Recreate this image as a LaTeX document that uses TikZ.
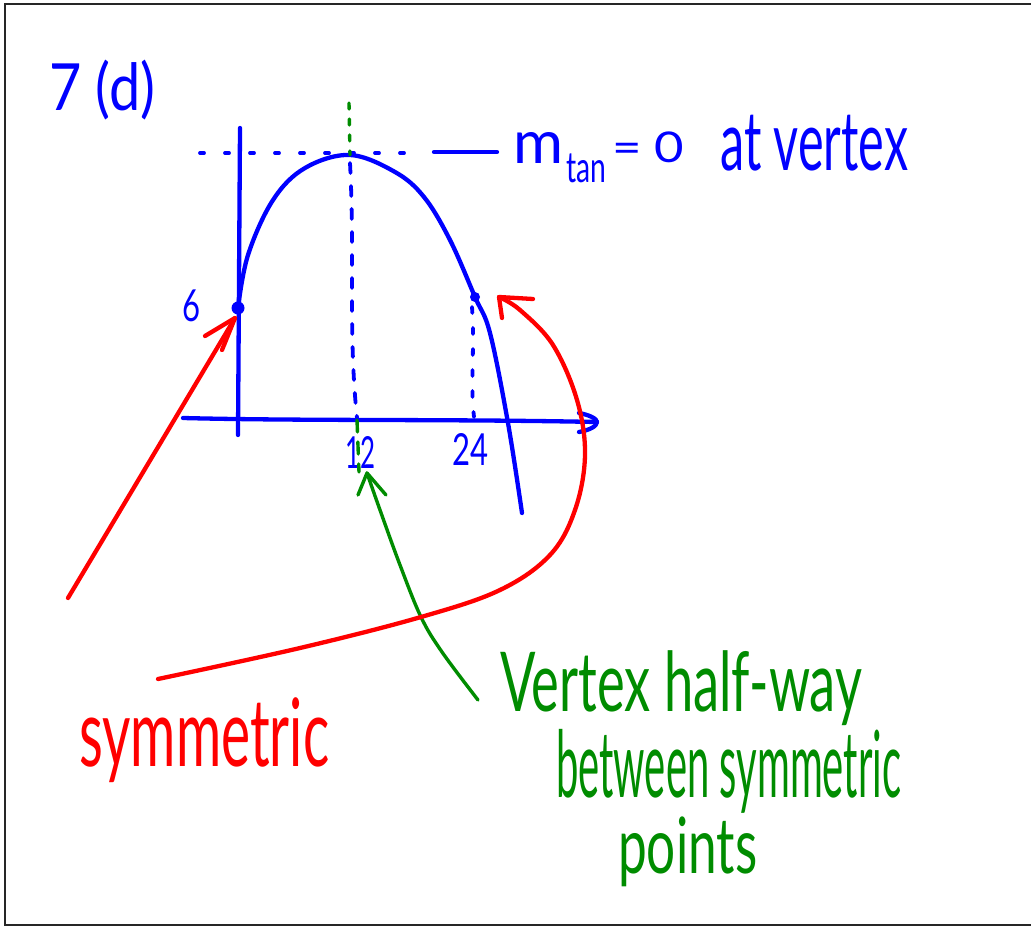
\documentclass[tikz,border=0pt]{standalone}
\usepackage{fontspec}
\setmainfont{Lato}
\usepackage{graphicx}
\definecolor{pblue}{RGB}{0,0,255}
\definecolor{pred}{RGB}{255,0,0}
\definecolor{pgreen}{RGB}{0,140,0}
\newcommand{\hw}[3]{\resizebox*{#1}{#2}{#3}}
\begin{document}
\begin{tikzpicture}[x=1pt,y=-1pt,
  ink/.style={line width=4.3pt,line cap=round,line join=round},
  bl/.style={ink,draw=pblue},
  rd/.style={ink,draw=pred},
  gr/.style={ink,line width=3.4pt,draw=pgreen},
  lbl/.style={inner sep=0pt,anchor=north west}]
\useasboundingbox (0,0) rectangle (1031,926);
\draw[line width=2.5pt,draw=black!85] (1031,4) -- (5,4) -- (5,925) -- (1031,925);

% labels
\node[lbl,text=pblue] (title) at (49,60) {\hw{106pt}{60pt}{7 (d)}};
\node[lbl,text=pblue] (six) at (182,290) {\hw{18pt}{32pt}{6}};
\node[lbl,text=pblue] (twelve) at (345,436) {\hw{30pt}{32pt}{12}};
\node[lbl,text=pblue] (tfour) at (452,433) {\hw{36pt}{32pt}{24}};
\node[lbl,text=pblue] (mm) at (513,132) {\hw{50pt}{31pt}{m}};
\node[lbl,text=pblue] (tan) at (566,154) {\hw{40pt}{29pt}{tan}};
\node[lbl,text=pblue] (eq) at (612,132) {\hw{72pt}{31pt}{= 0}};
\node[lbl,text=pblue] (atv) at (720,115) {\hw{188pt}{56pt}{at vertex}};
\node[lbl,text=pred] (sym) at (79,697) {\hw{250pt}{85pt}{symmetric}};
\node[lbl,text=pgreen] (g1) at (500,650) {\hw{362pt}{75pt}{Vertex half-way}};
\node[lbl,text=pgreen] (g2) at (556,729) {\hw{345pt}{84pt}{between symmetric}};
\node[lbl,text=pgreen] (g3) at (618,817) {\hw{139pt}{70pt}{points}};

% coordinates
\coordinate (vtx) at (350,155);
\coordinate (p6) at (238,308);
\coordinate (p24) at (475,297);
\coordinate (ytop) at (240,128);
\coordinate (ybot) at (238,435);
\coordinate (xl) at (183,418);
\coordinate (xr) at (597,422);

% axes
\draw[bl] (ytop) -- (ybot);
\draw[bl] (xl) .. controls (300,421) and (450,419) .. (xr);
\draw[bl] (579,413) .. controls (590,415) and (597,419) .. (xr) .. controls (597,426) and (590,430) .. (579,432);

% parabola
\draw[bl] plot[smooth,tension=0.6] coordinates {(p6) (248,255) (273,200) (305,168) (vtx) (395,172) (424,197) (450,240) (p24) (490,333) (508,423) (522,513)};
\fill[pblue] (p6) circle (6.5pt);
\fill[pblue] (p24) circle (5pt);

% dashed helpers
\draw[bl,line width=3.8pt,dash pattern=on 4pt off 21pt] (200,153) -- (420,153);
\draw[bl] (434,152) -- (497,152);
\draw[gr,dash pattern=on 6pt off 10pt] (349,103) -- (vtx);
\draw[bl,line width=3.8pt,dash pattern=on 10pt off 13pt] (350,163) .. controls (355,260) and (348,330) .. (357,418);
\draw[gr,dash pattern=on 12pt off 10pt] (357,420) -- (359,472);
\draw[bl,line width=3.8pt,dash pattern=on 6pt off 15pt] (472,307) .. controls (475,350) and (470,380) .. (474,417);

% green arrow
\coordinate (gtip) at (367,473);
\coordinate (gtail) at (478,700);
\draw[gr] plot[smooth,tension=0.6] coordinates {(gtail) (442,652) (421,617) (400,565) (380,510) (gtip)};
\draw[gr] (358,495) -- (gtip) -- (386,495);

% red arrows
\coordinate (r1tip) at (235,318);
\coordinate (r1tail) at (68,598);
\draw[rd] (r1tail) -- (r1tip);
\draw[rd] (205,336) -- (r1tip) -- (222,350);

\coordinate (r2tip) at (499,297);
\coordinate (r2tail) at (158,679);
\draw[rd] plot[smooth,tension=0.6] coordinates {(r2tail) (300,648) (421,617) (500,590) (550,555) (575,510) (585,455) (577,400) (553,345) (520,310) (r2tip)};
\draw[rd] (533,299) -- (r2tip) -- (502,318);
\end{tikzpicture}
\end{document}
